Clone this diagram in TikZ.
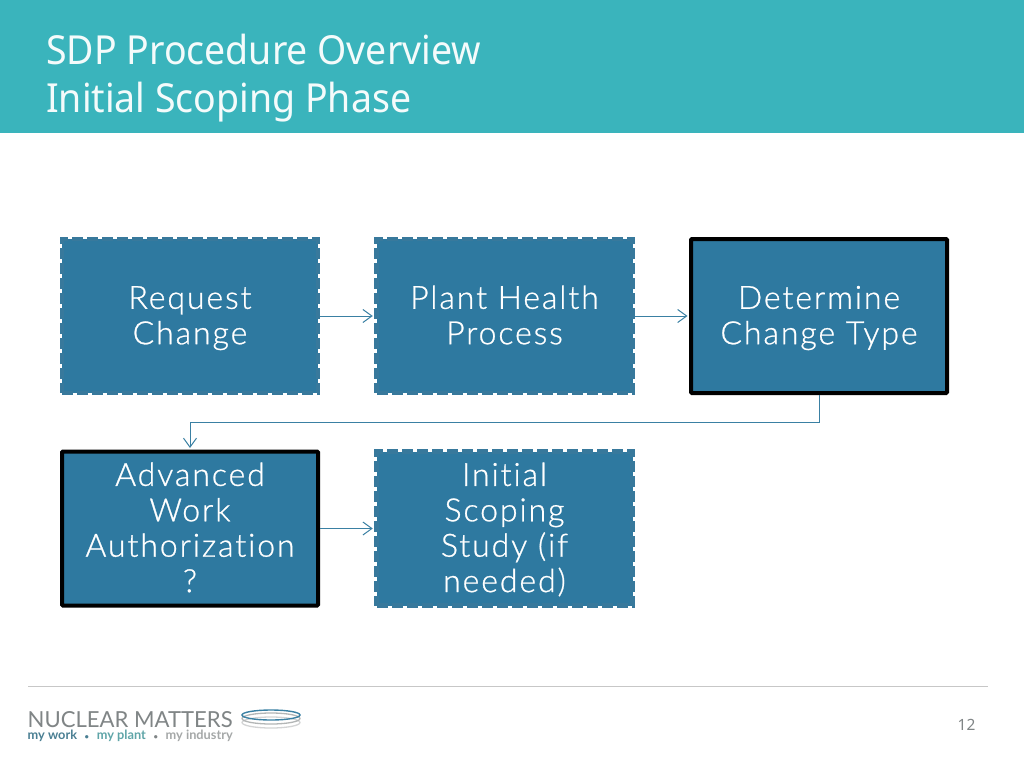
\documentclass[tikz,border=0pt]{standalone}
\usepackage{fontspec}
\setmainfont{Lato}
\newfontfamily\titlefont[FakeStretch=0.937]{Noto Sans}
\newfontfamily\pagefont{Noto Sans}
\newfontfamily\boxfont[LetterSpace=6,Ligatures=NoCommon,FakeBold=0.8]{Lato Light}
\usetikzlibrary{arrows.meta,calc}
\definecolor{teal}{HTML}{3AB4BC}
\definecolor{boxblue}{HTML}{2E79A0}
\definecolor{dashblue}{HTML}{38799C}
\definecolor{linkblue}{HTML}{3A80A3}
\definecolor{titlewhite}{HTML}{F4FBFB}
\definecolor{logogray}{HTML}{808586}
\definecolor{logoblue}{HTML}{4A7F93}
\definecolor{logoteal}{HTML}{5FA5A8}
\definecolor{logolight}{HTML}{A5A8A8}
\tikzset{
 flowbox/.style={fill=boxblue,minimum width=256pt,minimum height=154pt,inner sep=0pt,text width=230pt,align=center,text=white,font=\boxfont\fontsize{32}{35.4}\selectfont,
   execute at begin node={\rule{0pt}{28pt}},execute at end node={\rule[-7pt]{0pt}{7pt}}},
 dashbox/.style={flowbox,draw=dashblue,line width=4.5pt,dash pattern=on 11pt off 4pt},
 solidbox/.style={flowbox,draw=black,line width=4pt,rounded corners=1pt},
 link/.style={draw=linkblue,line width=1pt,shorten >=1.5pt,-{Straight Barb[length=9pt,width=13pt,line width=1pt]}},
 titletext/.style={anchor=base west,text=titlewhite,inner sep=0pt,font=\titlefont\fontsize{40}{44}\selectfont},
}
\begin{document}
\begin{tikzpicture}[x=1pt,y=-1pt]
\useasboundingbox (0,0) rectangle (1024,768);
\fill[white] (0,0) rectangle (1024,768);
\fill[teal] (0,0) rectangle (1024,133);
\node[titletext] (t1) at (46,64) {SDP Procedure Overview};
\node[titletext] (t2) at (46,112) {Initial Scoping Phase};
\node[dashbox] (req) at (190,316) {Request\\Change};
\node[dashbox] (plant) at (504.5,316) {Plant Health\\Process};
\node[solidbox] (det) at (819,316) {Determine\\Change Type};
\node[solidbox] (adv) at (190,528.5) {Advanced\\Work\\Authorization\\?};
\node[dashbox] (init) at (504.5,528.5) {Initial\\Scoping\\Study (if\\needed)};
\coordinate (bend) at (819,422);
\draw[link] (req) -- (plant);
\draw[link] (plant) -- (det);
\draw[link] (det.south) -- (bend) -| (adv.north);
\draw[link] (adv) -- (init);
\coordinate (ruleL) at (28,686.5);
\coordinate (ruleR) at (988,686.5);
\draw[draw=black!22,line width=1pt] (ruleL) -- (ruleR);
\node[anchor=base west,inner sep=0pt,text=logogray] (lg1) at (27.5,727) {\resizebox{205pt}{16pt}{NUCLEAR MATTERS}};
\node[anchor=base west,inner sep=0pt] (lg2) at (27.5,739) {\bfseries\resizebox{205pt}{!}{\textcolor{logoblue}{my work}\hspace{0.6em}\textcolor{logoblue}{\scalebox{.6}{•}}\hspace{0.6em}\textcolor{logoteal}{my plant}\hspace{0.6em}\textcolor{logogray}{\scalebox{.6}{•}}\hspace{0.6em}\textcolor{logolight}{my industry}}};
\draw[logogray!35,line width=1.3pt] (271,722.5) ellipse (29pt and 5.5pt);
\draw[logogray!60,line width=1.3pt] (271,718.5) ellipse (29pt and 5.5pt);
\draw[linkblue,line width=1.4pt] (271,715) ellipse (29pt and 5pt);
\node[text=logogray,inner sep=0pt,font=\pagefont\fontsize{15.5}{16}\selectfont] (pg) at (966.5,724.5) {12};
\end{tikzpicture}
\end{document}
